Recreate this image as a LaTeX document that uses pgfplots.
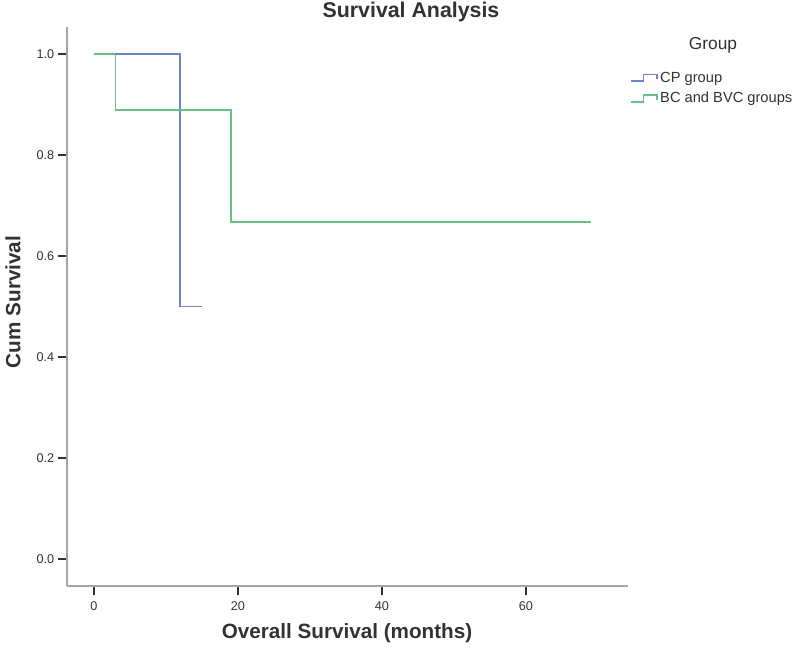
\documentclass[border=0pt]{standalone}
\usepackage{fontspec}
\setmainfont{Liberation Sans}
\usepackage{pgfplots}
\pgfplotsset{compat=1.18}
\definecolor{cpblue}{RGB}{112,130,200}
\definecolor{bcgreen}{RGB}{104,192,134}
\definecolor{axgray}{RGB}{160,166,170}
\definecolor{tickink}{RGB}{50,50,50}
\begin{document}
\begin{tikzpicture}
\useasboundingbox (0,0) rectangle (600pt,491.25pt);
\begin{axis}[
  at={(50.25pt,51.75pt)}, anchor=south west,
  scale only axis, width=420.75pt, height=419.25pt,
  xmin=-3.75, xmax=74.2, ymin=-0.053, ymax=1.053,
  axis x line=bottom, axis y line=left,
  axis line style={axgray, line width=1.5pt, -},
  xtick={0,20,40,60}, ytick={0,0.2,0.4,0.6,0.8,1.0},
  tick align=outside, major tick length=7pt,
  tick style={tickink, line width=1.1pt},
  /pgf/number format/assume math mode=true,
  tick label style={font=\fontsize{9.5}{11}\selectfont, color=tickink},
  xticklabel style={yshift=-1pt},
  yticklabel style={xshift=1pt, /pgf/number format/fixed, /pgf/number format/fixed zerofill, /pgf/number format/precision=1},
  legend style={at={(1.004,0.925)}, anchor=north west, draw=none, fill=none,
    font=\fontsize{11}{13}\selectfont, inner sep=0pt, row sep=2pt,
    cells={anchor=west, text=tickink}},
  legend image code/.code={\draw[#1] (0pt,-2.5pt) -- (9pt,-2.5pt) -- (9pt,2.5pt) -- (19pt,2.5pt) -- (19pt,-1pt);},
]
\addplot[cpblue, line width=1.3pt, const plot] coordinates {(0,1) (12,0.5) (15,0.5)};
\addlegendentry{CP group}
\addplot[bcgreen, line width=1.3pt, const plot] coordinates {(0,1) (3,0.8889) (19,0.6667) (69,0.6667)};
\addlegendentry{BC and BVC groups}
\end{axis}
\node[font=\bfseries\fontsize{16}{18}\selectfont, text=tickink] at (308.25pt,482pt) {Survival Analysis};
\node[font=\bfseries\fontsize{15.5}{18}\selectfont, text=tickink, rotate=90] at (9.75pt,264.75pt) {Cum Survival};
\node[font=\bfseries\fontsize{15.5}{18}\selectfont, text=tickink] at (260.25pt,16.5pt) {Overall Survival (months)};
\node[font=\fontsize{13}{15}\selectfont, text=tickink] at (534.75pt,457.5pt) {Group};
\end{tikzpicture}
\end{document}
